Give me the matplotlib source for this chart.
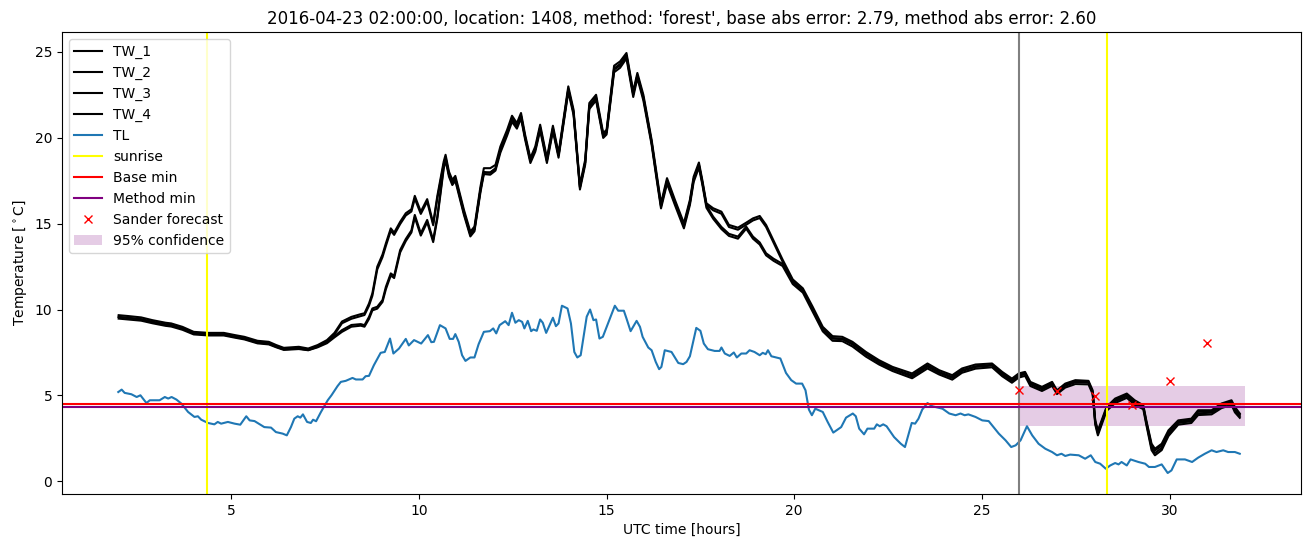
import matplotlib
matplotlib.use("Agg")
import matplotlib.pyplot as plt

# tiempos comunes de las series TW (horas UTC)
tw_hours = [2.0, 2.25, 2.6, 2.9, 3.25, 3.4, 3.7, 4.0, 4.4, 4.8,
            5.1, 5.35, 5.7, 6.0, 6.2, 6.4, 6.8, 7.05, 7.3, 7.55,
            7.75, 7.95, 8.2, 8.45, 8.55, 8.67, 8.76, 8.89, 9.03, 9.12,
            9.25, 9.34, 9.5, 9.65, 9.8, 9.89, 10.05, 10.22, 10.38, 10.49,
            10.66, 10.71, 10.8, 10.89, 10.97, 11.2, 11.37, 11.48, 11.64, 11.73,
            11.9, 12.04, 12.17, 12.35, 12.48, 12.61, 12.72, 12.83, 12.97, 13.1,
            13.23, 13.41, 13.57, 13.72, 13.98, 14.12, 14.29, 14.43, 14.54, 14.72,
            14.91, 15.0, 15.2, 15.36, 15.53, 15.71, 15.82, 15.98, 16.2, 16.33,
            16.45, 16.61, 16.82, 17.06, 17.22, 17.32, 17.46, 17.55, 17.66, 17.84,
            18.06, 18.26, 18.5, 18.72, 18.9, 19.08, 19.25, 19.45, 19.69, 19.96,
            20.23, 20.49, 20.76, 21.02, 21.28, 21.55, 21.91, 22.26, 22.62, 23.14,
            23.55, 23.86, 24.21, 24.47, 24.83, 25.27, 25.54, 25.8, 25.98, 26.15,
            26.29, 26.6, 26.87, 27.0, 27.22, 27.49, 27.84, 27.95, 28.02, 28.09,
            28.19, 28.32, 28.55, 28.86, 29.07, 29.3, 29.38, 29.52, 29.61, 29.79,
            29.97, 30.23, 30.58, 30.76, 31.12, 31.38, 31.65, 31.74, 31.87]

tw_1 = [9.67, 9.62, 9.54, 9.38, 9.23, 9.19, 8.99, 8.70, 8.64, 8.64,
        8.51, 8.41, 8.18, 8.12, 7.93, 7.77, 7.83, 7.73, 7.93, 8.22,
        8.64, 9.30, 9.57, 9.73, 9.78, 10.35, 10.94, 12.49, 13.20, 13.85,
        14.72, 14.47, 15.10, 15.60, 15.83, 16.61, 15.69, 16.42, 15.02, 16.60,
        18.60, 19.00, 18.02, 17.54, 17.77, 15.79, 14.53, 14.82, 17.15, 18.22,
        18.22, 18.41, 19.48, 20.45, 21.27, 20.84, 21.43, 20.16, 18.81, 19.48,
        20.75, 18.81, 20.69, 19.10, 22.98, 21.62, 17.25, 18.71, 22.01, 22.49,
        20.26, 20.45, 24.18, 24.43, 24.92, 22.69, 23.76, 22.49, 19.87, 17.93,
        16.18, 17.64, 16.38, 15.02, 16.38, 17.73, 18.55, 17.54, 16.18, 15.89,
        15.69, 14.92, 14.76, 15.05, 15.30, 15.44, 14.92, 14.00, 12.90, 11.75,
        11.23, 10.16, 8.99, 8.45, 8.41, 8.12, 7.53, 7.05, 6.66, 6.28,
        6.86, 6.47, 6.18, 6.57, 6.80, 6.86, 6.37, 5.98, 6.28, 6.37,
        5.79, 5.50, 5.79, 5.30, 5.69, 5.89, 5.85, 5.30, 3.55, 2.97,
        3.55, 4.33, 4.82, 5.11, 4.72, 4.43, 3.55, 2.19, 1.90, 2.19,
        2.97, 3.55, 3.65, 4.14, 4.14, 4.53, 4.72, 4.33, 3.95]

tw_2 = [9.56, 9.50, 9.42, 9.27, 9.12, 9.07, 8.88, 8.60, 8.53, 8.53,
        8.40, 8.30, 8.07, 8.01, 7.83, 7.68, 7.73, 7.64, 7.83, 8.12,
        8.55, 9.20, 9.46, 9.62, 9.68, 10.22, 10.80, 12.33, 13.05, 13.70,
        14.58, 14.34, 14.97, 15.47, 15.70, 16.45, 15.56, 16.28, 14.90, 16.45,
        18.45, 18.85, 17.88, 17.40, 17.64, 15.66, 14.40, 14.68, 16.98, 17.95,
        17.98, 18.20, 19.30, 20.30, 21.10, 20.70, 21.28, 20.02, 18.68, 19.33,
        20.60, 18.68, 20.55, 18.97, 22.82, 21.48, 17.12, 18.57, 21.86, 22.33,
        20.12, 20.32, 24.02, 24.28, 24.78, 22.55, 23.62, 22.35, 19.74, 17.80,
        16.06, 17.50, 16.25, 14.90, 16.25, 17.60, 18.42, 17.42, 16.08, 15.77,
        15.57, 14.80, 14.64, 14.93, 15.18, 15.32, 14.80, 13.88, 12.78, 11.63,
        11.11, 10.04, 8.87, 8.34, 8.31, 8.01, 7.43, 6.95, 6.56, 6.18,
        6.76, 6.37, 6.08, 6.47, 6.70, 6.78, 6.28, 5.90, 6.20, 6.29,
        5.71, 5.42, 5.71, 5.23, 5.61, 5.81, 5.78, 5.22, 3.47, 2.89,
        3.47, 4.26, 4.74, 5.03, 4.64, 4.36, 3.47, 2.08, 1.80, 2.08,
        2.86, 3.47, 3.57, 4.06, 4.07, 4.45, 4.64, 4.24, 3.88]

tw_3 = [9.57, 9.52, 9.44, 9.29, 9.14, 9.10, 8.90, 8.62, 8.56, 8.56,
        8.43, 8.33, 8.10, 8.04, 7.86, 7.70, 7.76, 7.68, 7.86, 8.12,
        8.45, 8.80, 9.10, 9.15, 9.09, 9.57, 10.06, 10.16, 10.55, 11.32,
        12.10, 11.95, 13.46, 14.10, 14.60, 15.50, 14.43, 15.21, 14.04, 15.40,
        18.32, 18.80, 17.85, 17.35, 17.60, 15.60, 14.35, 14.65, 16.95, 18.00,
        17.95, 18.20, 19.25, 20.25, 21.05, 20.65, 21.25, 20.00, 18.65, 19.30,
        20.55, 18.65, 20.50, 18.95, 22.80, 21.45, 17.10, 18.55, 21.80, 22.30,
        20.10, 20.30, 23.95, 24.20, 24.75, 22.50, 23.60, 22.30, 19.70, 17.75,
        16.00, 17.45, 16.20, 14.85, 16.20, 17.55, 18.40, 17.40, 16.05, 15.40,
        14.80, 14.40, 14.24, 14.82, 14.24, 13.90, 13.27, 12.95, 12.65, 11.60,
        11.10, 10.00, 8.85, 8.30, 8.28, 7.97, 7.38, 6.90, 6.52, 6.10,
        6.68, 6.32, 6.02, 6.42, 6.66, 6.74, 6.22, 5.84, 6.14, 6.24,
        5.65, 5.36, 5.66, 5.18, 5.56, 5.76, 5.74, 5.18, 3.40, 2.80,
        3.40, 4.20, 4.66, 4.96, 4.56, 4.30, 3.40, 1.95, 1.65, 1.95,
        2.75, 3.40, 3.50, 3.96, 4.00, 4.36, 4.56, 4.12, 3.80]

tw_4 = [9.47, 9.42, 9.35, 9.20, 9.05, 9.01, 8.82, 8.55, 8.49, 8.49,
        8.36, 8.26, 8.03, 7.97, 7.80, 7.65, 7.70, 7.63, 7.80, 8.04,
        8.38, 8.70, 9.00, 9.06, 9.00, 9.45, 9.95, 10.05, 10.44, 11.18,
        11.98, 11.83, 13.32, 13.98, 14.48, 15.36, 14.30, 15.08, 13.92, 15.27,
        18.18, 18.68, 17.73, 17.24, 17.48, 15.50, 14.25, 14.55, 16.82, 17.88,
        17.84, 18.08, 19.12, 20.12, 20.92, 20.52, 21.12, 19.88, 18.52, 19.18,
        20.42, 18.52, 20.38, 18.83, 22.66, 21.32, 16.98, 18.42, 21.66, 22.16,
        19.98, 20.18, 23.80, 24.06, 24.60, 22.36, 23.46, 22.16, 19.58, 17.62,
        15.88, 17.32, 16.08, 14.72, 16.08, 17.42, 18.26, 17.28, 15.92, 15.28,
        14.68, 14.28, 14.12, 14.70, 14.12, 13.78, 13.15, 12.83, 12.53, 11.48,
        10.98, 9.88, 8.73, 8.18, 8.16, 7.85, 7.26, 6.80, 6.42, 6.00,
        6.57, 6.22, 5.92, 6.32, 6.56, 6.64, 6.12, 5.74, 6.04, 6.14,
        5.55, 5.26, 5.56, 5.08, 5.46, 5.66, 5.64, 5.08, 3.30, 2.68,
        3.30, 4.10, 4.56, 4.86, 4.46, 4.20, 3.30, 1.82, 1.52, 1.82,
        2.64, 3.30, 3.40, 3.86, 3.90, 4.26, 4.46, 4.02, 3.70]

# temperatura del aire TL
tl_hours = [1.99, 2.08, 2.16, 2.34, 2.48, 2.58, 2.74, 2.83, 3.09, 3.23,
            3.32, 3.41, 3.54, 3.67, 3.85, 4.02, 4.11, 4.20, 4.38, 4.55,
            4.64, 4.73, 4.91, 5.09, 5.24, 5.40, 5.49, 5.62, 5.88, 6.06,
            6.19, 6.37, 6.48, 6.59, 6.68, 6.77, 6.84, 6.91, 7.02, 7.12,
            7.18, 7.26, 7.39, 7.57, 7.67, 7.83, 7.92, 8.05, 8.23, 8.32,
            8.50, 8.58, 8.67, 8.80, 8.98, 9.09, 9.23, 9.32, 9.47, 9.65,
            9.73, 9.87, 10.06, 10.24, 10.33, 10.40, 10.56, 10.71, 10.82, 10.91,
            10.97, 11.06, 11.15, 11.24, 11.37, 11.48, 11.59, 11.73, 11.89, 11.98,
            12.06, 12.15, 12.30, 12.39, 12.48, 12.57, 12.66, 12.75, 12.81, 12.90,
            12.99, 13.05, 13.14, 13.23, 13.30, 13.39, 13.57, 13.65, 13.72, 13.81,
            13.96, 14.05, 14.14, 14.22, 14.31, 14.47, 14.56, 14.65, 14.72, 14.81,
            14.90, 15.22, 15.31, 15.46, 15.53, 15.64, 15.80, 15.89, 15.96, 16.11,
            16.20, 16.31, 16.40, 16.46, 16.55, 16.73, 16.91, 17.04, 17.13, 17.22,
            17.39, 17.50, 17.59, 17.70, 17.88, 18.01, 18.06, 18.15, 18.28, 18.39,
            18.47, 18.59, 18.72, 18.81, 18.94, 19.08, 19.16, 19.24, 19.30, 19.39,
            19.52, 19.63, 19.78, 19.92, 20.05, 20.21, 20.30, 20.39, 20.47, 20.56,
            20.76, 20.89, 21.04, 21.25, 21.38, 21.56, 21.64, 21.73, 21.86, 21.95,
            22.13, 22.20, 22.28, 22.37, 22.46, 22.66, 22.84, 22.95, 23.13, 23.22,
            23.31, 23.41, 23.55, 23.68, 23.95, 24.13, 24.30, 24.43, 24.54, 24.64,
            24.83, 25.01, 25.18, 25.45, 25.63, 25.78, 25.90, 26.03, 26.20, 26.34,
            26.51, 26.69, 26.87, 27.00, 27.12, 27.22, 27.35, 27.58, 27.75, 27.90,
            28.02, 28.15, 28.30, 28.42, 28.55, 28.64, 28.72, 28.86, 28.96, 29.17,
            29.35, 29.45, 29.61, 29.79, 29.95, 30.05, 30.19, 30.41, 30.60, 30.76,
            30.94, 31.12, 31.25, 31.43, 31.56, 31.74, 31.87]

tl = [5.20, 5.34, 5.15, 5.07, 4.91, 5.01, 4.56, 4.72, 4.72, 4.91,
      4.82, 4.91, 4.76, 4.53, 4.04, 3.75, 3.79, 3.59, 3.40, 3.32,
      3.46, 3.36, 3.46, 3.36, 3.30, 3.79, 3.55, 3.51, 3.16, 3.13,
      2.87, 2.78, 2.68, 3.16, 3.65, 3.79, 3.71, 3.90, 3.46, 3.40,
      3.59, 3.50, 4.04, 4.72, 5.01, 5.54, 5.79, 5.85, 6.02, 5.93,
      5.93, 6.12, 6.14, 6.76, 7.48, 7.53, 8.31, 7.44, 7.73, 8.29,
      7.91, 8.22, 8.02, 8.51, 8.10, 8.12, 9.09, 8.90, 8.29, 8.29,
      8.57, 8.12, 7.34, 7.01, 7.21, 7.21, 7.98, 8.70, 8.74, 8.90,
      8.61, 9.09, 9.32, 9.09, 9.81, 9.23, 9.38, 9.28, 8.90, 9.34,
      8.74, 8.84, 8.76, 9.42, 9.23, 8.64, 9.52, 9.03, 9.19, 10.22,
      10.06, 9.19, 7.53, 7.21, 7.34, 9.58, 10.00, 9.38, 9.42, 8.31,
      8.41, 10.22, 9.93, 9.93, 9.48, 8.74, 9.34, 8.99, 8.41, 7.79,
      7.63, 6.95, 6.53, 6.66, 7.63, 7.53, 6.89, 6.82, 6.95, 7.28,
      8.93, 8.76, 8.02, 7.69, 7.59, 7.59, 7.79, 7.44, 7.30, 7.50,
      7.21, 7.44, 7.44, 7.63, 7.53, 7.34, 7.48, 7.40, 7.63, 7.28,
      7.21, 7.15, 6.31, 5.89, 5.69, 5.69, 5.30, 4.18, 3.85, 4.23,
      4.04, 3.46, 2.84, 3.16, 3.71, 3.95, 3.79, 3.07, 2.74, 3.07,
      3.07, 3.32, 3.21, 3.32, 3.21, 2.58, 2.19, 2.00, 3.40, 3.36,
      3.65, 4.18, 4.56, 4.37, 4.23, 3.95, 3.85, 3.95, 3.85, 3.90,
      3.75, 3.55, 3.51, 2.78, 2.39, 2.00, 2.10, 2.39, 3.21, 2.68,
      2.19, 1.90, 1.71, 1.52, 1.61, 1.48, 1.56, 1.52, 1.32, 1.52,
      1.13, 1.03, 0.74, 0.93, 1.07, 0.99, 1.13, 0.93, 1.28, 1.13,
      1.03, 0.84, 0.84, 0.99, 0.49, 0.64, 1.28, 1.28, 1.13, 1.38,
      1.61, 1.81, 1.71, 1.81, 1.71, 1.71, 1.61]

# pronostico de Sander
sander_hours = [26, 27, 28, 29, 30, 31]
sander_temp = [5.30, 5.24, 4.96, 4.47, 5.83, 8.04]

sunrise_hours = [4.36, 28.32]
forecast_start = 26.0
base_min = 4.49
method_min = 4.31
conf_hours = [26, 32]
conf_low = [3.22, 3.22]
conf_high = [5.54, 5.54]

fig = plt.figure(figsize=(13.1, 5.47), dpi=100)
ax = fig.add_axes([0.0473, 0.0969, 0.9458, 0.8446])

ax.plot(tw_hours, tw_1, color='black', label='TW_1')
ax.plot(tw_hours, tw_2, color='black', label='TW_2')
ax.plot(tw_hours, tw_3, color='black', label='TW_3')
ax.plot(tw_hours, tw_4, color='black', label='TW_4')
ax.plot(tl_hours, tl, color='C0', label='TL')
ax.axvline(sunrise_hours[0], color='yellow', label='sunrise')
ax.axvline(sunrise_hours[1], color='yellow')
ax.axvline(forecast_start, color='gray')
ax.axhline(base_min, color='red', label='Base min')
ax.axhline(method_min, color='purple', label='Method min')
ax.plot(sander_hours, sander_temp, 'x', color='red', label='Sander forecast')
ax.fill_between(conf_hours, conf_low, conf_high, color='purple', alpha=0.2,
                linewidth=0, label='95% confidence')

ax.set_xlabel('UTC time [hours]')
ax.set_ylabel(r'Temperature [$^\circ$C]')
ax.set_title("2016-04-23 02:00:00, location: 1408, method: 'forest', "
             "base abs error: 2.79, method abs error: 2.60")
ax.legend(loc='upper left')

fig.savefig('out.png', dpi=100)
